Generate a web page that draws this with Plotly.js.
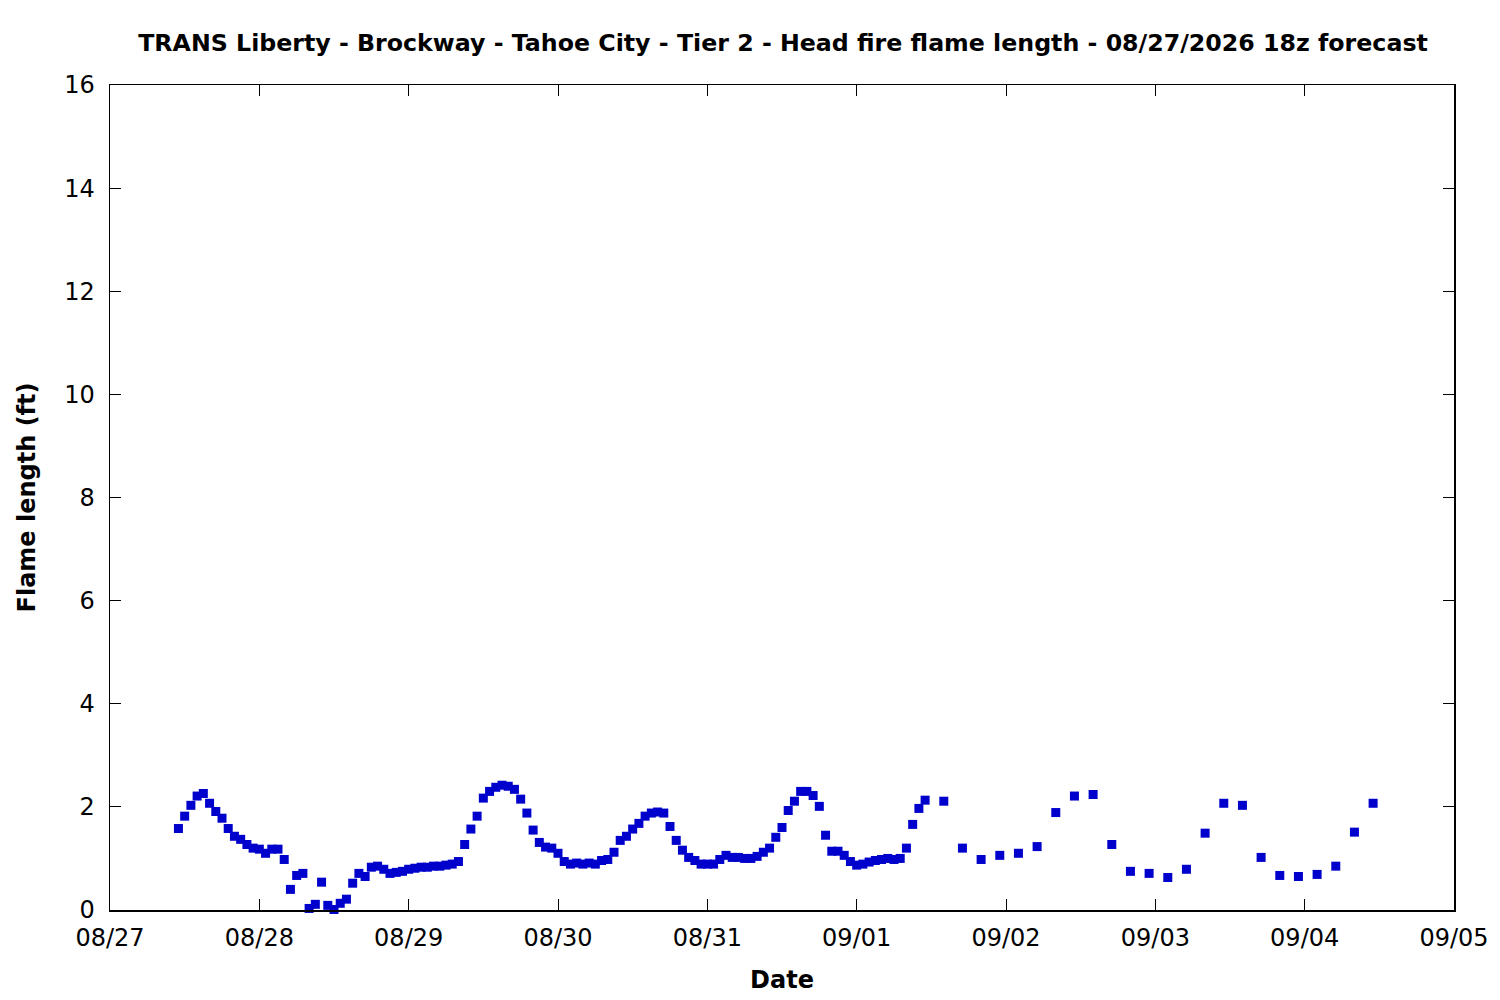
<!DOCTYPE html>
<html>
<head>
<meta charset="utf-8">
<script src="https://cdn.plot.ly/plotly-3.0.1.min.js"></script>
<style>html,body{margin:0;padding:0;background:#fff;}#chart{width:1500px;height:1000px;}</style>
</head>
<body>
<div id="chart"></div>
<script>
// Hourly flame length (ft), starting 2026-08-27 11:00
const hourlyStart = "2026-08-27T11:00:00Z";
const hourlyStepHours = 1;
const hourlyValues = [
  1.58,1.82,2.03,2.21,2.26,2.07,1.91,1.78,1.58,1.43,
  1.37,1.27,1.20,1.18,1.10,1.18,1.18,0.98,0.40,0.67,
  0.71,0.03,0.11,0.54,0.09,0.01,0.13,0.21,0.52,0.71,
  0.65,0.83,0.85,0.79,0.71,0.73,0.75,0.79,0.81,0.83,
  0.83,0.85,0.85,0.87,0.89,0.94,1.27,1.57,1.82,2.17,
  2.30,2.38,2.42,2.40,2.34,2.15,1.88,1.55,1.31,1.22,
  1.20,1.10,0.94,0.89,0.91,0.89,0.91,0.89,0.96,0.98,
  1.12,1.35,1.43,1.57,1.68,1.82,1.88,1.90,1.88,1.62,
  1.35,1.16,1.02,0.96,0.89,0.89,0.89,0.98,1.06,1.02,
  1.02,1.00,1.00,1.04,1.12,1.20,1.41,1.60,1.93,2.11,
  2.30,2.30,2.22,2.01,1.45,1.14,1.14,1.06,0.94,0.87,
  0.89,0.93,0.96,0.98,1.00,0.98,1.00,1.20,1.66,1.97,
  2.13
];
// Three-hourly flame length (ft), starting 2026-09-01 14:00
const threeHourlyStart = "2026-09-01T14:00:00Z";
const threeHourlyStepHours = 3;
const threeHourlyValues = [
  2.11,1.20,0.98,1.06,1.10,1.23,1.89,2.21,2.24,1.27,
  0.75,0.71,0.63,0.79,1.49,2.07,2.03,1.02,0.67,0.65,
  0.69,0.85,1.51,2.07
];
const xTickLabels = ["08/27","08/28","08/29","08/30","08/31","09/01","09/02","09/03","09/04","09/05"];
const xTickDates = ["2026-08-27","2026-08-28","2026-08-29","2026-08-30","2026-08-31","2026-09-01","2026-09-02","2026-09-03","2026-09-04","2026-09-05"];
const titleText = "TRANS Liberty - Brockway - Tahoe City - Tier 2 - Head fire flame length - 08/27/2026 18z forecast";

function pad(n){return (n<10?"0":"")+n;}
function times(start, stepH, n){
  const t0 = Date.parse(start);
  const out = [];
  for (let i=0;i<n;i++){
    const d = new Date(t0 + i*stepH*3600000);
    out.push(d.getUTCFullYear()+"-"+pad(d.getUTCMonth()+1)+"-"+pad(d.getUTCDate())+" "+pad(d.getUTCHours())+":00");
  }
  return out;
}
const xs = times(hourlyStart, hourlyStepHours, hourlyValues.length)
  .concat(times(threeHourlyStart, threeHourlyStepHours, threeHourlyValues.length));
const ys = hourlyValues.concat(threeHourlyValues);

const font = "DejaVu Sans";
const data = [{
  x: xs, y: ys, type: "scatter", mode: "markers",
  marker: {symbol: "square", size: 9, color: "#0000cc", line: {width: 0}},
  cliponaxis: false, showlegend: false
}];
const layout = {
  width: 1500, height: 1000,
  paper_bgcolor: "#fff", plot_bgcolor: "#fff",
  margin: {l: 110, r: 46, t: 85, b: 90, pad: 0},
  font: {family: font, size: 24, color: "#000"},
  title: {text: "<b>" + titleText + "</b>", font: {family: font, size: 23.7, color: "#000"},
          x: 0.522, xanchor: "center", y: 0.957, yanchor: "middle"},
  xaxis: {
    type: "date", range: ["2026-08-27", "2026-09-05"],
    tickmode: "array", tickvals: xTickDates, ticktext: xTickLabels,
    ticks: "inside", ticklen: 11, tickwidth: 1, tickcolor: "#000",
    showline: true, linecolor: "#000", linewidth: 1.5, mirror: "ticks",
    showgrid: false, zeroline: false,
    ticklabelstandoff: 6,
    tickfont: {family: font, size: 24, color: "#000"},
    title: {text: "<b>Date</b>", font: {family: font, size: 24, color: "#000"}, standoff: 20}
  },
  yaxis: {
    range: [0, 16], dtick: 2, tick0: 0,
    ticks: "inside", ticklen: 11, tickwidth: 1, tickcolor: "#000",
    showline: true, linecolor: "#000", linewidth: 1.5, mirror: "ticks",
    showgrid: false, zeroline: false,
    ticklabelstandoff: 9,
    tickfont: {family: font, size: 24, color: "#000"},
    title: {text: "<b>Flame length (ft)</b>", font: {family: font, size: 24, color: "#000"}, standoff: 22}
  }
};
Plotly.newPlot("chart", data, layout, {displayModeBar: false, staticPlot: true});
</script>
</body>
</html>
